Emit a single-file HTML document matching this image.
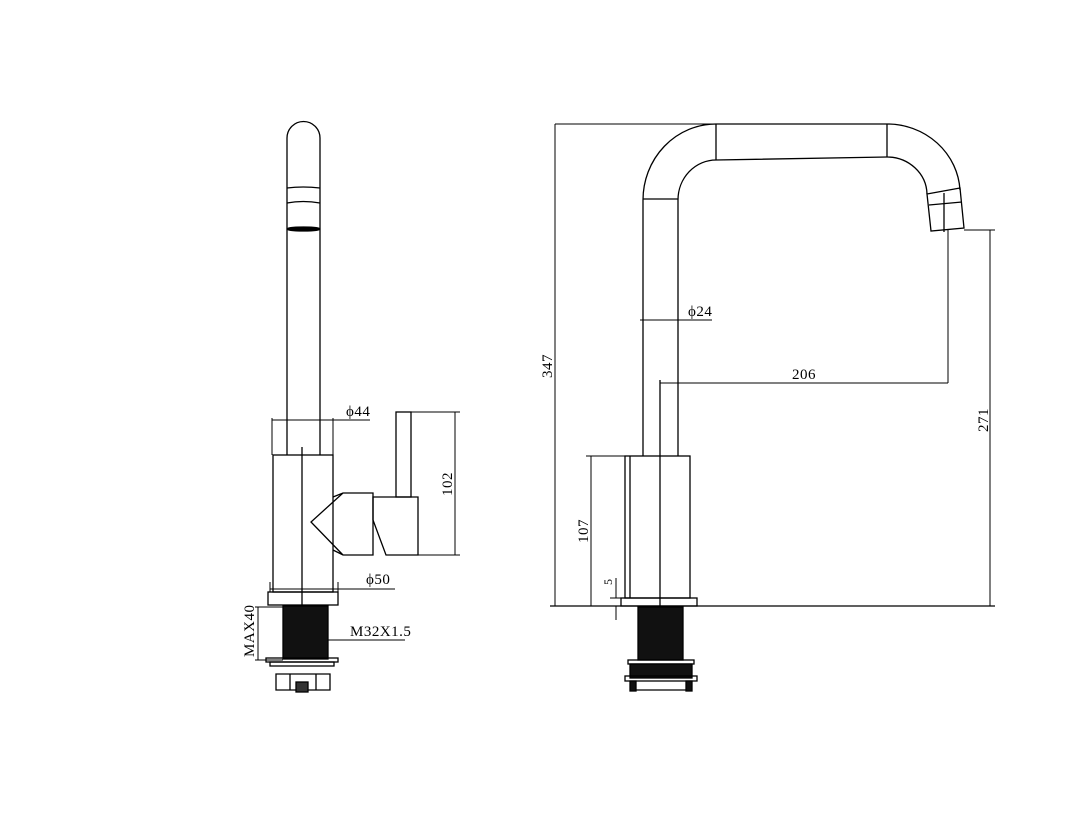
<!DOCTYPE html>
<html><head><style>body{margin:0;background:#fff}svg{display:block}text{font-family:"Liberation Serif",serif;font-size:15px;fill:#000;stroke:none;letter-spacing:0.5px}</style></head><body>
<svg width="1090" height="818" viewBox="0 0 1090 818" fill="none" stroke="#000" stroke-width="1.3">
<path d="M287 455 V138 A16.5 16.5 0 0 1 320 138 V455"/>
<path d="M287 188 Q303 186 320 188 M287 203 Q303 200 320 203"/>
<ellipse cx="303.5" cy="229" rx="16.5" ry="2" fill="#000"/>
<rect x="273" y="455" width="60" height="137"/>
<line x1="302" y1="447" x2="302" y2="605"/>
<path d="M333 497 L343 493 H373 V555 H343 L333 550 M343 493 L311 522 L343 555"/>
<path d="M373 497 H418 V555 H386 L373 520 Z"/>
<rect x="396" y="412" width="15" height="85"/>
<rect x="268" y="592" width="70" height="13"/>
<rect x="283" y="606" width="45" height="53" fill="#111"/>
<rect x="266" y="658" width="72" height="4"/>
<rect x="270" y="662" width="64" height="4"/>
<path d="M276 674 H330 V690 H276 Z M290 674 V690 M316 674 V690"/>
<rect x="296" y="682" width="12" height="10" fill="#333"/>
<g stroke-width="1">
<path d="M272 420 H370 M272 418 V455 M333 418 V455"/>
<path d="M411 412 H460 M418 555 H460 M455 412 V555"/>
<path d="M270 589 H395 M270 582 V592 M338 582 V592"/>
<path d="M255 607 H283 M255 660 H283 M258 607 V660"/>
<path d="M328 640 H405"/>
</g>
<text x="346" y="416">ϕ44</text>
<text x="366" y="584">ϕ50</text>
<text x="350" y="636">M32X1.5</text>
<text transform="translate(452 496) rotate(-90)">102</text>
<text transform="translate(254 657) rotate(-90)">MAX40</text>
<path d="M643 456 V200 A73 76 0 0 1 716 124 H887 A73 70 0 0 1 960 190 M678 456 V200 A38 40 0 0 1 716 160 L887 157 A40 38 0 0 1 927 194"/>
<path d="M643 199 H678 M716 124 V160 M887 124 V157"/>
<path d="M927 194 L960 188 L964 228 L931 231 Z M929 205 L962 202 M944 193 V232"/>
<rect x="625" y="456" width="65" height="142"/>
<line x1="660" y1="380" x2="660" y2="606"/>
<line x1="630" y1="456" x2="630" y2="598"/>
<rect x="621" y="598" width="76" height="8"/>
<line x1="550" y1="606" x2="995" y2="606"/>
<rect x="638" y="607" width="45" height="53" fill="#111"/>
<rect x="628" y="660" width="66" height="4"/>
<rect x="630" y="664" width="62" height="14" fill="#111"/>
<rect x="625" y="676" width="72" height="5"/>
<path d="M634 681 V690 H690 V681"/>
<rect x="630" y="681" width="6" height="10" fill="#111"/><rect x="686" y="681" width="6" height="10" fill="#111"/>
<g stroke-width="1">
<path d="M555 124 H716 M555 124 V606"/>
<path d="M964 230 H995 M990 230 V606"/>
<path d="M660 383 H948 M948 230 V383"/>
<path d="M640 320 H712"/>
<path d="M586 456 H625 M591 456 V606"/>
<path d="M616 578 V598 M616 606 V620 M610 598 H621"/>
</g>
<text x="688" y="316">ϕ24</text>
<text x="792" y="379">206</text>
<text transform="translate(552 378) rotate(-90)">347</text>
<text transform="translate(988 432) rotate(-90)">271</text>
<text transform="translate(588 543) rotate(-90)">107</text>
<text transform="translate(612 585) rotate(-90)" style="font-size:12px">5</text>
</svg>
</body></html>
